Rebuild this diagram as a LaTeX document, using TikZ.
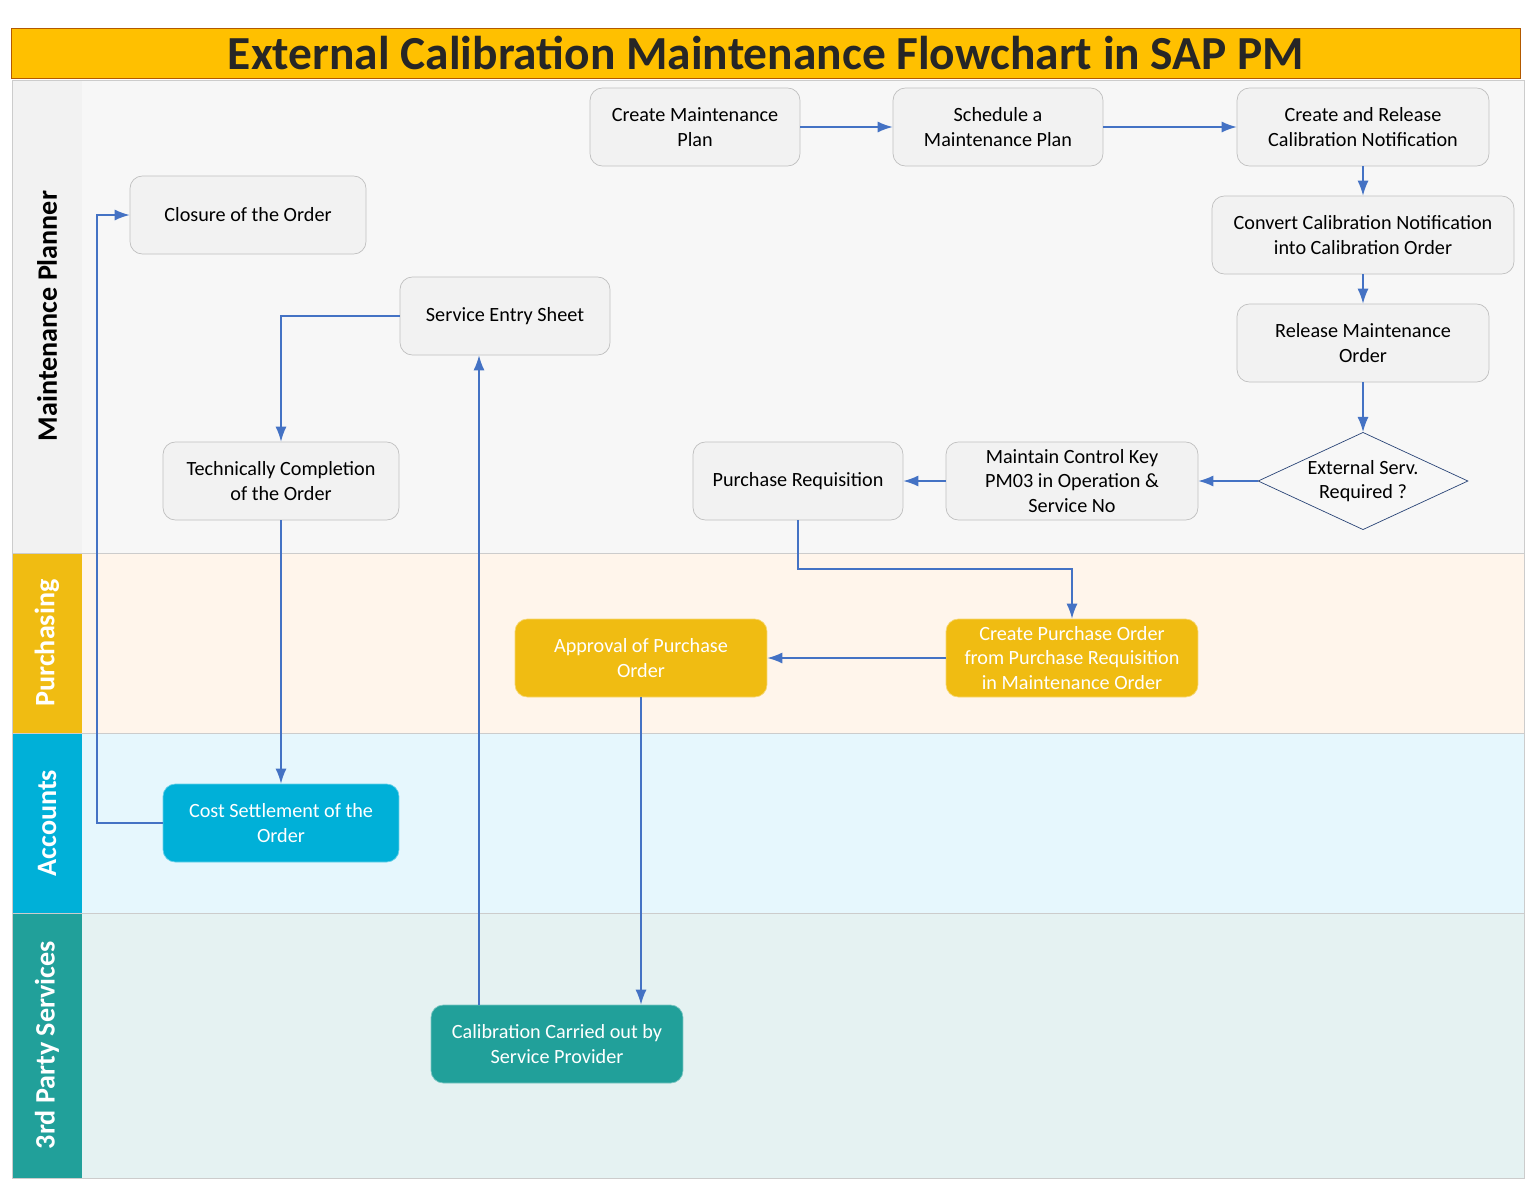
\documentclass[tikz,border=0pt]{standalone}
\usepackage{fontspec}
\setmainfont{Carlito}
\usetikzlibrary{shapes.geometric,calc,arrows.meta}
\definecolor{arrowblue}{HTML}{4472C4}
\definecolor{titleyel}{HTML}{FFC000}
\definecolor{purband}{HTML}{F0BC12}
\definecolor{accband}{HTML}{00B0D8}
\definecolor{thdband}{HTML}{21A09A}
\begin{document}
\begin{tikzpicture}[x=0.02cm,y=-0.02cm,
  box/.style={draw=black!25,fill=black!5,rounded corners=7pt,align=center,
    minimum height=1.56cm,inner sep=2pt,font=\fontsize{11.5}{14}\selectfont},
  ybox/.style={box,fill=purband,text=white,draw=purband!60},
  bbox/.style={box,fill=accband,text=white,draw=accband!60},
  tbox/.style={box,fill=thdband,text=white,draw=thdband!60},
  flow/.style={draw=arrowblue,-{Latex[length=3mm,width=2.2mm]},thick},
  lane/.style={text=white,font=\fontsize{16}{19}\selectfont\bfseries,rotate=90}]
\useasboundingbox (0,0) rectangle (1534,1191);
% lanes
\fill[black!5] (12,80) rectangle (82,553);
\fill[black!3] (82,80) rectangle (1524,553);
\fill[purband] (12,553) rectangle (82,733);
\fill[orange!8] (82,553) rectangle (1524,733);
\fill[accband] (12,733) rectangle (82,913);
\fill[cyan!10] (82,733) rectangle (1524,913);
\fill[thdband] (12,913) rectangle (82,1178);
\fill[teal!10] (82,913) rectangle (1524,1178);
\draw[black!20] (12,80) rectangle (1524,1178)
  (12,553) -- (1524,553) (12,733) -- (1524,733) (12,913) -- (1524,913);
\node[lane,text=black] (lplan) at (47,316) {Maintenance Planner};
\node[lane] (lpur) at (47,643) {Purchasing};
\node[lane] (lacc) at (47,823) {Accounts};
\node[lane] (lthd) at (47,1045) {3rd Party Services};
% title
\node[draw=orange!70!black,fill=titleyel,minimum width=30.18cm,minimum height=1cm,
  font=\fontsize{27}{32}\selectfont\bfseries,text=black!85] (title) at (766,53)
  {External Calibration Maintenance Flowchart in SAP PM};
% nodes
\node[box,minimum width=4.2cm] (cmp) at (695,127) {Create Maintenance\\Plan};
\node[box,minimum width=4.2cm] (smp) at (998,127) {Schedule a\\Maintenance Plan};
\node[box,minimum width=5.04cm] (crn) at (1363,127) {Create and Release\\Calibration Notification};
\node[box,minimum width=6.04cm] (conv) at (1363,235) {Convert Calibration Notification\\into Calibration Order};
\node[box,minimum width=5.04cm] (rmo) at (1363,343) {Release Maintenance\\Order};
\node[diamond,aspect=2,draw=arrowblue!60!black,fill=black!3,minimum width=4.2cm,
  inner sep=0pt,align=center,font=\fontsize{11.5}{14}\selectfont] (ext) at (1363,481) {External Serv.\\Required ?};
\node[box,minimum width=5.04cm] (mck) at (1072,481) {Maintain Control Key\\PM03 in Operation \&\\Service No};
\node[box,minimum width=4.2cm] (pr) at (798,481) {Purchase Requisition};
\node[ybox,minimum width=5.04cm] (cpo) at (1072,658) {Create Purchase Order\\from Purchase Requisition\\in Maintenance Order};
\node[ybox,minimum width=5.04cm] (apo) at (641,658) {Approval of Purchase\\Order};
\node[tbox,minimum width=5.04cm] (cal) at (557,1044) {Calibration Carried out by\\Service Provider};
\node[box,minimum width=4.2cm] (ses) at (505,316) {Service Entry Sheet};
\node[box,minimum width=4.72cm] (tco) at (281,481) {Technically Completion\\of the Order};
\node[bbox,minimum width=4.72cm] (cso) at (281,823) {Cost Settlement of the\\Order};
\node[box,minimum width=4.72cm] (clo) at (248,215) {Closure of the Order};
\coordinate (prturn) at (798,569);
\coordinate (csoturn) at (97,823);
% connectors
\draw[flow] (cmp) -- (smp);
\draw[flow] (smp) -- (crn);
\draw[flow] (crn) -- (conv);
\draw[flow] (conv) -- (rmo);
\draw[flow] (rmo) -- (ext);
\draw[flow] (ext) -- (mck);
\draw[flow] (mck) -- (pr);
\draw[flow] (pr.south) -- (prturn) -| (cpo.north);
\draw[flow] (cpo) -- (apo);
\draw[flow] (apo.south) -- (apo.south |- cal.north);
\draw[flow] (cal.north -| 479,0) -- (ses.south -| 479,0);
\draw[flow] (ses.west) -| (tco.north);
\draw[flow] (tco) -- (cso);
\draw[flow] (cso.west) -- (csoturn) |- (clo.west);
\end{tikzpicture}
\end{document}
